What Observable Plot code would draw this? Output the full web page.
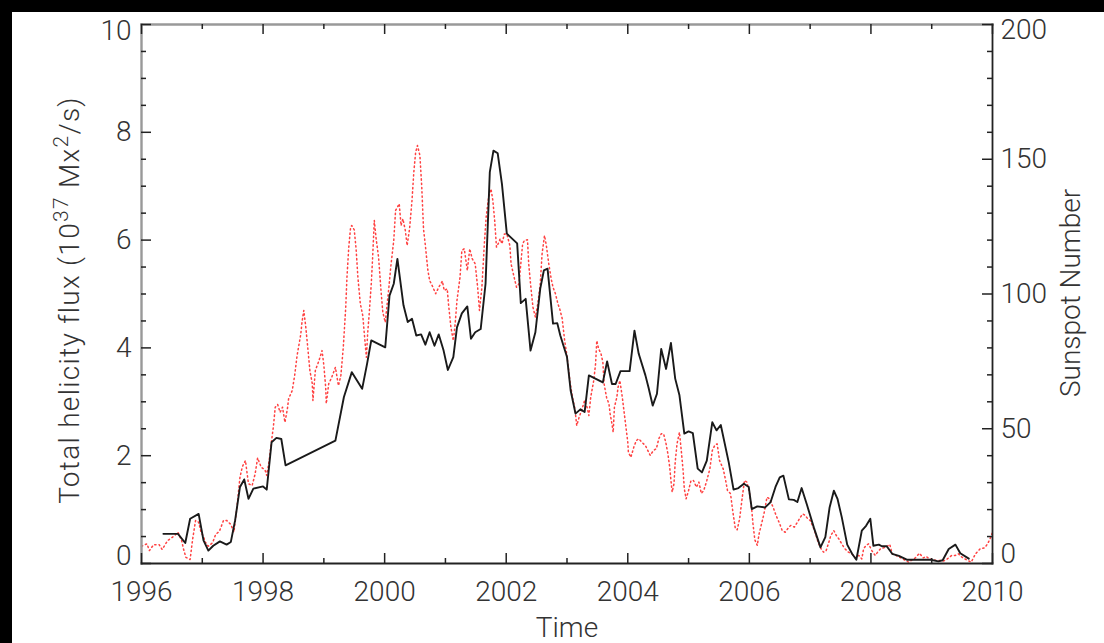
<!DOCTYPE html>
<html>
<head>
<meta charset="utf-8">
<script src="https://cdn.jsdelivr.net/npm/d3@7"></script>
<script src="https://cdn.jsdelivr.net/npm/@observablehq/plot@0.6"></script>
<style>
  html, body { margin: 0; padding: 0; background: #000; width: 1104px; height: 643px; overflow: hidden; }
  #chart { position: absolute; left: 12px; top: 12px; width: 1092px; height: 631px; background: #fff; }
</style>
</head>
<body>
<div id="chart"></div>
<script>
// ---- Data ----
// Total helicity flux (10^37 Mx^2/s), black solid line
const helicityYears = [1996.36,1996.60,1996.72,1996.80,1996.94,1997.02,1997.10,1997.18,1997.29,1997.40,1997.47,1997.54,1997.62,1997.69,1997.76,1997.84,1998.00,1998.06,1998.14,1998.22,1998.30,1998.37,1999.19,1999.33,1999.46,1999.63,1999.71,1999.78,2000.01,2000.08,2000.15,2000.21,2000.31,2000.38,2000.45,2000.52,2000.60,2000.67,2000.74,2000.82,2000.89,2000.97,2001.04,2001.13,2001.19,2001.27,2001.36,2001.42,2001.49,2001.58,2001.66,2001.73,2001.79,2001.86,2001.93,2002.01,2002.18,2002.24,2002.32,2002.40,2002.48,2002.56,2002.62,2002.68,2002.77,2002.84,2002.89,2003.00,2003.06,2003.14,2003.22,2003.29,2003.36,2003.59,2003.66,2003.74,2003.80,2003.88,2004.03,2004.11,2004.18,2004.29,2004.34,2004.41,2004.48,2004.55,2004.63,2004.71,2004.78,2004.85,2004.93,2005.00,2005.07,2005.15,2005.22,2005.30,2005.39,2005.46,2005.53,2005.66,2005.74,2005.82,2005.91,2005.99,2006.04,2006.13,2006.26,2006.35,2006.43,2006.50,2006.56,2006.65,2006.73,2006.79,2006.86,2006.95,2007.06,2007.17,2007.25,2007.32,2007.39,2007.45,2007.52,2007.61,2007.69,2007.76,2007.85,2007.92,2007.99,2008.04,2008.13,2008.18,2008.26,2008.35,2008.46,2008.59,2008.98,2009.11,2009.18,2009.28,2009.39,2009.47,2009.61];
const helicityValues = [0.55,0.55,0.38,0.83,0.92,0.43,0.24,0.33,0.41,0.35,0.40,0.80,1.42,1.56,1.20,1.39,1.43,1.37,2.25,2.33,2.31,1.82,2.28,3.09,3.55,3.24,3.70,4.14,4.01,4.97,5.19,5.65,4.79,4.48,4.54,4.23,4.25,4.06,4.29,4.04,4.25,3.95,3.59,3.83,4.38,4.64,4.77,4.17,4.29,4.35,5.19,7.26,7.66,7.61,7.04,6.12,5.94,4.83,4.91,3.95,4.29,5.10,5.44,5.47,4.45,4.46,4.23,3.83,3.21,2.78,2.86,2.81,3.49,3.36,3.75,3.33,3.33,3.57,3.57,4.32,3.89,3.49,3.27,2.93,3.15,3.98,3.61,4.09,3.43,3.12,2.41,2.45,2.42,1.76,1.69,1.91,2.62,2.47,2.57,1.88,1.37,1.40,1.48,1.42,1.01,1.06,1.04,1.14,1.42,1.60,1.63,1.19,1.18,1.14,1.40,1.08,0.67,0.30,0.49,1.04,1.35,1.20,0.86,0.35,0.18,0.07,0.61,0.70,0.83,0.33,0.35,0.32,0.32,0.18,0.14,0.07,0.07,0.04,0.06,0.27,0.35,0.19,0.09];

// Sunspot number, red dotted line (right axis)
const sunspotYears = [1996.00,1996.09,1996.13,1996.20,1996.29,1996.34,1996.43,1996.53,1996.60,1996.66,1996.69,1996.73,1996.80,1996.84,1996.89,1996.94,1996.98,1997.02,1997.05,1997.10,1997.17,1997.22,1997.28,1997.35,1997.40,1997.47,1997.52,1997.57,1997.62,1997.66,1997.71,1997.76,1997.82,1997.87,1997.91,1997.97,1998.03,1998.06,1998.10,1998.14,1998.17,1998.20,1998.24,1998.28,1998.32,1998.36,1998.40,1998.42,1998.48,1998.52,1998.56,1998.62,1998.64,1998.67,1998.70,1998.74,1998.77,1998.81,1998.82,1998.86,1998.92,1998.97,1999.00,1999.03,1999.04,1999.08,1999.13,1999.19,1999.24,1999.28,1999.32,1999.36,1999.38,1999.41,1999.44,1999.46,1999.50,1999.53,1999.56,1999.60,1999.64,1999.68,1999.70,1999.72,1999.75,1999.78,1999.80,1999.83,1999.86,1999.90,1999.94,1999.97,2000.01,2000.07,2000.10,2000.15,2000.18,2000.21,2000.24,2000.27,2000.30,2000.34,2000.37,2000.41,2000.45,2000.48,2000.51,2000.54,2000.58,2000.61,2000.64,2000.67,2000.71,2000.74,2000.78,2000.84,2000.89,2000.95,2000.98,2001.03,2001.05,2001.09,2001.13,2001.16,2001.19,2001.24,2001.27,2001.31,2001.36,2001.40,2001.44,2001.49,2001.53,2001.56,2001.60,2001.64,2001.67,2001.71,2001.75,2001.78,2001.81,2001.84,2001.88,2001.90,2001.93,2001.97,2002.01,2002.06,2002.08,2002.13,2002.17,2002.21,2002.24,2002.27,2002.30,2002.35,2002.37,2002.40,2002.44,2002.48,2002.52,2002.56,2002.59,2002.63,2002.66,2002.70,2002.74,2002.77,2002.81,2002.85,2002.88,2002.92,2002.96,2003.00,2003.05,2003.09,2003.13,2003.16,2003.20,2003.24,2003.29,2003.33,2003.36,2003.39,2003.42,2003.44,2003.47,2003.49,2003.52,2003.56,2003.59,2003.61,2003.65,2003.69,2003.71,2003.74,2003.76,2003.78,2003.82,2003.84,2003.87,2003.91,2003.94,2003.98,2004.00,2004.01,2004.05,2004.10,2004.14,2004.18,2004.23,2004.29,2004.33,2004.37,2004.42,2004.47,2004.51,2004.55,2004.59,2004.63,2004.66,2004.69,2004.71,2004.73,2004.76,2004.78,2004.81,2004.85,2004.88,2004.91,2004.93,2004.96,2005.00,2005.04,2005.08,2005.13,2005.17,2005.21,2005.25,2005.30,2005.35,2005.39,2005.43,2005.47,2005.51,2005.57,2005.61,2005.64,2005.69,2005.73,2005.77,2005.80,2005.84,2005.88,2005.92,2005.96,2006.00,2006.04,2006.06,2006.09,2006.13,2006.16,2006.20,2006.24,2006.29,2006.33,2006.39,2006.44,2006.50,2006.54,2006.59,2006.65,2006.68,2006.74,2006.79,2006.84,2006.88,2006.92,2006.96,2007.00,2007.05,2007.09,2007.13,2007.18,2007.22,2007.26,2007.30,2007.34,2007.39,2007.43,2007.47,2007.52,2007.57,2007.63,2007.69,2007.74,2007.80,2007.85,2007.88,2007.92,2007.96,2008.02,2008.07,2008.11,2008.16,2008.21,2008.26,2008.31,2008.35,2008.41,2008.49,2008.57,2008.62,2008.68,2008.73,2008.80,2008.86,2008.91,2008.97,2009.03,2009.08,2009.14,2009.19,2009.25,2009.33,2009.39,2009.44,2009.50,2009.57,2009.65,2009.72,2009.80,2009.87,2009.92,2009.96,2010.00];
const sunspotValues = [6.4,7.3,4.8,7.0,7.0,5.2,8.5,10.1,11.6,8.5,5.5,2.3,1.5,8.8,16.0,15.3,11.6,10.0,7.9,6.4,7.7,10.8,11.9,16.0,16.0,14.5,11.6,20.9,32.0,36.0,38.2,29.6,28.9,33.3,39.2,35.7,34.8,32.7,38.2,45.6,50.8,58.0,59.0,56.1,58.0,52.4,57.4,61.1,64.2,69.8,77.2,85.0,89.5,93.9,88.3,79.0,71.6,66.7,60.5,71.6,75.3,79.0,73.5,65.4,59.3,66.7,69.1,72.8,66.0,69.8,80.3,95.1,106.2,117.4,124.8,125.4,123.8,116.8,106.2,96.4,92.0,81.5,76.5,85.2,93.9,103.8,112.4,127.3,120.5,113.7,101.3,93.2,89.5,102.5,109.9,119.9,131.0,132.2,133.5,125.4,127.9,123.6,118.0,124.2,134.7,145.2,152.6,155.1,151.4,140.0,124.0,118.0,109.0,105.0,103.2,100.1,102.5,104.8,101.3,101.9,96.4,87.7,82.7,88.9,97.6,106.2,116.1,116.8,108.7,116.8,113.1,111.2,102.5,93.9,102.5,118.6,128.5,135.9,139.0,134.7,127.3,117.4,119.2,120.5,118.6,122.3,122.3,118.0,111.2,106.2,102.5,103.8,111.2,118.6,119.9,120.1,111.2,103.8,95.1,91.4,96.4,103.8,114.9,121.7,118.0,111.2,105.6,102.5,100.1,96.4,94.5,91.0,83.0,77.0,67.3,61.7,57.4,51.2,54.3,56.8,60.5,58.0,54.9,61.7,65.4,67.9,74.1,82.7,79.7,77.8,74.7,66.7,61.7,59.3,55.5,51.8,48.7,58.0,61.7,65.4,67.9,61.7,56.1,48.7,45.0,41.3,39.4,43.2,45.6,46.3,45.0,43.8,41.9,40.1,41.9,42.6,46.3,48.1,48.1,44.4,40.7,35.7,30.8,26.5,29.6,37.6,44.4,48.7,41.9,34.5,27.7,24.0,27.1,30.8,30.8,28.3,30.2,26.0,27.1,30.8,35.1,41.9,43.8,44.4,38.2,35.1,30.8,27.1,25.9,19.0,12.9,12.5,16.6,24.0,30.8,30.2,26.5,19.7,14.7,8.8,6.7,11.0,14.7,18.4,24.6,24.0,20.9,17.8,14.7,12.2,11.6,13.5,14.1,13.5,15.3,17.2,18.4,17.8,16.6,16.0,13.5,11.0,7.9,5.5,4.2,4.6,7.3,10.4,12.2,10.4,9.2,7.3,5.5,4.2,3.5,2.1,3.0,1.7,5.5,6.7,7.3,4.6,3.0,4.2,5.5,5.8,6.3,7.1,3.6,3.0,2.1,1.1,0.5,1.4,2.1,3.8,2.1,2.6,1.6,1.4,1.1,1.1,0.9,1.6,3.0,3.0,3.6,2.3,1.4,0.5,3.6,5.5,5.8,7.3,9.2,11.6];

// Axis ticks and labels
const xMajorTicks = [1996, 1998, 2000, 2002, 2004, 2006, 2008, 2010];
const xMinorTicks = [1997, 1999, 2001, 2003, 2005, 2007, 2009];
const yLeftMajorTicks = [0, 2, 4, 6, 8, 10];
const yLeftMinorTicks = [0.5, 1, 1.5, 2.5, 3, 3.5, 4.5, 5, 5.5, 6.5, 7, 7.5, 8.5, 9, 9.5];
const yRightMajorTicks = [0, 50, 100, 150, 200];
const yRightMinorTicks = [10, 20, 30, 40, 60, 70, 80, 90, 110, 120, 130, 140, 160, 170, 180, 190];
const xTitle = "Time";
const yLeftTitle = "Total helicity flux (10^37 Mx^2/s)";
const yRightTitle = "Sunspot Number";

// ---- Build tables ----
const helicity = helicityYears.map((t, i) => ({t, v: helicityValues[i]}));
const sunspot = sunspotYears.map((t, i) => ({t, s: sunspotValues[i]}));
const ssToLeft = s => s / 20; // right axis 0–200 maps onto left axis 0–10

const W = 1092, H = 631;
const mL = 129, mR = 112, mT = 12, mB = 80;
const innerW = W - mL - mR, innerH = H - mT - mB;
const FONT = "Roboto, Liberation Sans, Arial, sans-serif";
const TXT = "#333";
const TICK = "#222";
const txt = {fontSize: 28, fill: TXT, fontWeight: 300};

const chart = Plot.plot({
  width: W, height: H,
  marginLeft: mL, marginRight: mR, marginTop: mT, marginBottom: mB,
  style: {background: "#fff", fontFamily: FONT, overflow: "visible"},
  x: {domain: [1996, 2010], axis: null},
  y: {domain: [0, 10], axis: null},
  marks: [
    // data
    Plot.line(sunspot, {x: "t", y: d => ssToLeft(d.s), stroke: "#ff2020", strokeWidth: 1.5, strokeDasharray: "1.3,3", strokeOpacity: 0.85}),
    Plot.line(helicity, {x: "t", y: "v", stroke: "#1a1a1a", strokeWidth: 1.9, strokeLinejoin: "round"}),
    // frame: top & left lighter, bottom & right dark
    Plot.frame({anchor: "top", stroke: "#999", strokeWidth: 2.4}),
    Plot.frame({anchor: "left", stroke: "#999", strokeWidth: 2.4}),
    Plot.frame({anchor: "bottom", stroke: TICK, strokeWidth: 1.8}),
    Plot.frame({anchor: "right", stroke: TICK, strokeWidth: 1.8}),
    // x ticks (inward), bottom and top
    Plot.tickX(xMajorTicks, {x: d => d, insetTop: innerH - 10, stroke: TICK, strokeWidth: 1.5}),
    Plot.tickX(xMajorTicks, {x: d => d, insetBottom: innerH - 10, stroke: TICK, strokeWidth: 1.5}),
    Plot.tickX(xMinorTicks, {x: d => d, insetTop: innerH - 5, stroke: TICK, strokeWidth: 1.5}),
    Plot.tickX(xMinorTicks, {x: d => d, insetBottom: innerH - 5, stroke: TICK, strokeWidth: 1.5}),
    // left y ticks
    Plot.tickY(yLeftMajorTicks, {y: d => d, insetRight: innerW - 10, stroke: TICK, strokeWidth: 1.5}),
    Plot.tickY(yLeftMinorTicks, {y: d => d, insetRight: innerW - 5, stroke: TICK, strokeWidth: 1.5}),
    // right y ticks (sunspot scale)
    Plot.tickY(yRightMajorTicks, {y: d => ssToLeft(d), insetLeft: innerW - 10, stroke: TICK, strokeWidth: 1.5}),
    Plot.tickY(yRightMinorTicks, {y: d => ssToLeft(d), insetLeft: innerW - 5, stroke: TICK, strokeWidth: 1.5}),
    // x tick labels
    Plot.text(xMajorTicks, {x: d => d, frameAnchor: "bottom", dy: 37, text: d => String(d), ...txt}),
    // left tick labels
    Plot.text(yLeftMajorTicks.filter(d => d > 0 && d < 10), {y: d => d, frameAnchor: "left", dx: -10, textAnchor: "end", text: d => String(d), ...txt}),
    Plot.text([10], {y: d => d, frameAnchor: "left", dx: -10, dy: 7, textAnchor: "end", text: d => String(d), ...txt}),
    Plot.text([0], {y: d => d, frameAnchor: "left", dx: -10, dy: -7, textAnchor: "end", text: d => String(d), ...txt}),
    // right tick labels
    Plot.text(yRightMajorTicks.filter(d => d > 0 && d < 200), {y: d => ssToLeft(d), frameAnchor: "right", dx: 8, textAnchor: "start", text: d => String(d), ...txt}),
    Plot.text([200], {y: d => ssToLeft(d), frameAnchor: "right", dx: 8, dy: 6, textAnchor: "start", text: d => String(d), ...txt}),
    Plot.text([0], {y: d => ssToLeft(d), frameAnchor: "right", dx: 8, dy: -9, textAnchor: "start", text: d => String(d), ...txt}),
    // axis titles
    Plot.text([xTitle], {frameAnchor: "bottom", dy: 73, text: d => d, ...txt}),
    Plot.text([yLeftTitle], {frameAnchor: "left", dx: -71, dy: 6, rotate: -90, textAnchor: "middle", text: d => d, ...txt, className: "yleft-title"}),
    Plot.text([yRightTitle], {frameAnchor: "right", dx: 79, dy: -1, rotate: -90, textAnchor: "middle", text: d => d, ...txt})
  ]
});
document.getElementById("chart").appendChild(chart);

// Superscripts in the left title
const t = chart.querySelector(".yleft-title text");
if (t) {
  const parts = yLeftTitle.split(/\^(\d+)/); // ["Total ... (10", "37", " Mx", "2", "/s)"]
  t.textContent = "";
  const NS = "http://www.w3.org/2000/svg";
  parts.forEach((p, i) => {
    const ts = document.createElementNS(NS, "tspan");
    ts.textContent = p;
    if (i % 2 === 1) { ts.setAttribute("dy", "-11"); ts.setAttribute("font-size", "21"); }
    else if (i > 0) { ts.setAttribute("dy", "11"); }
    t.appendChild(ts);
  });
  t.setAttribute("letter-spacing", "1.3");
}
</script>
</body>
</html>
